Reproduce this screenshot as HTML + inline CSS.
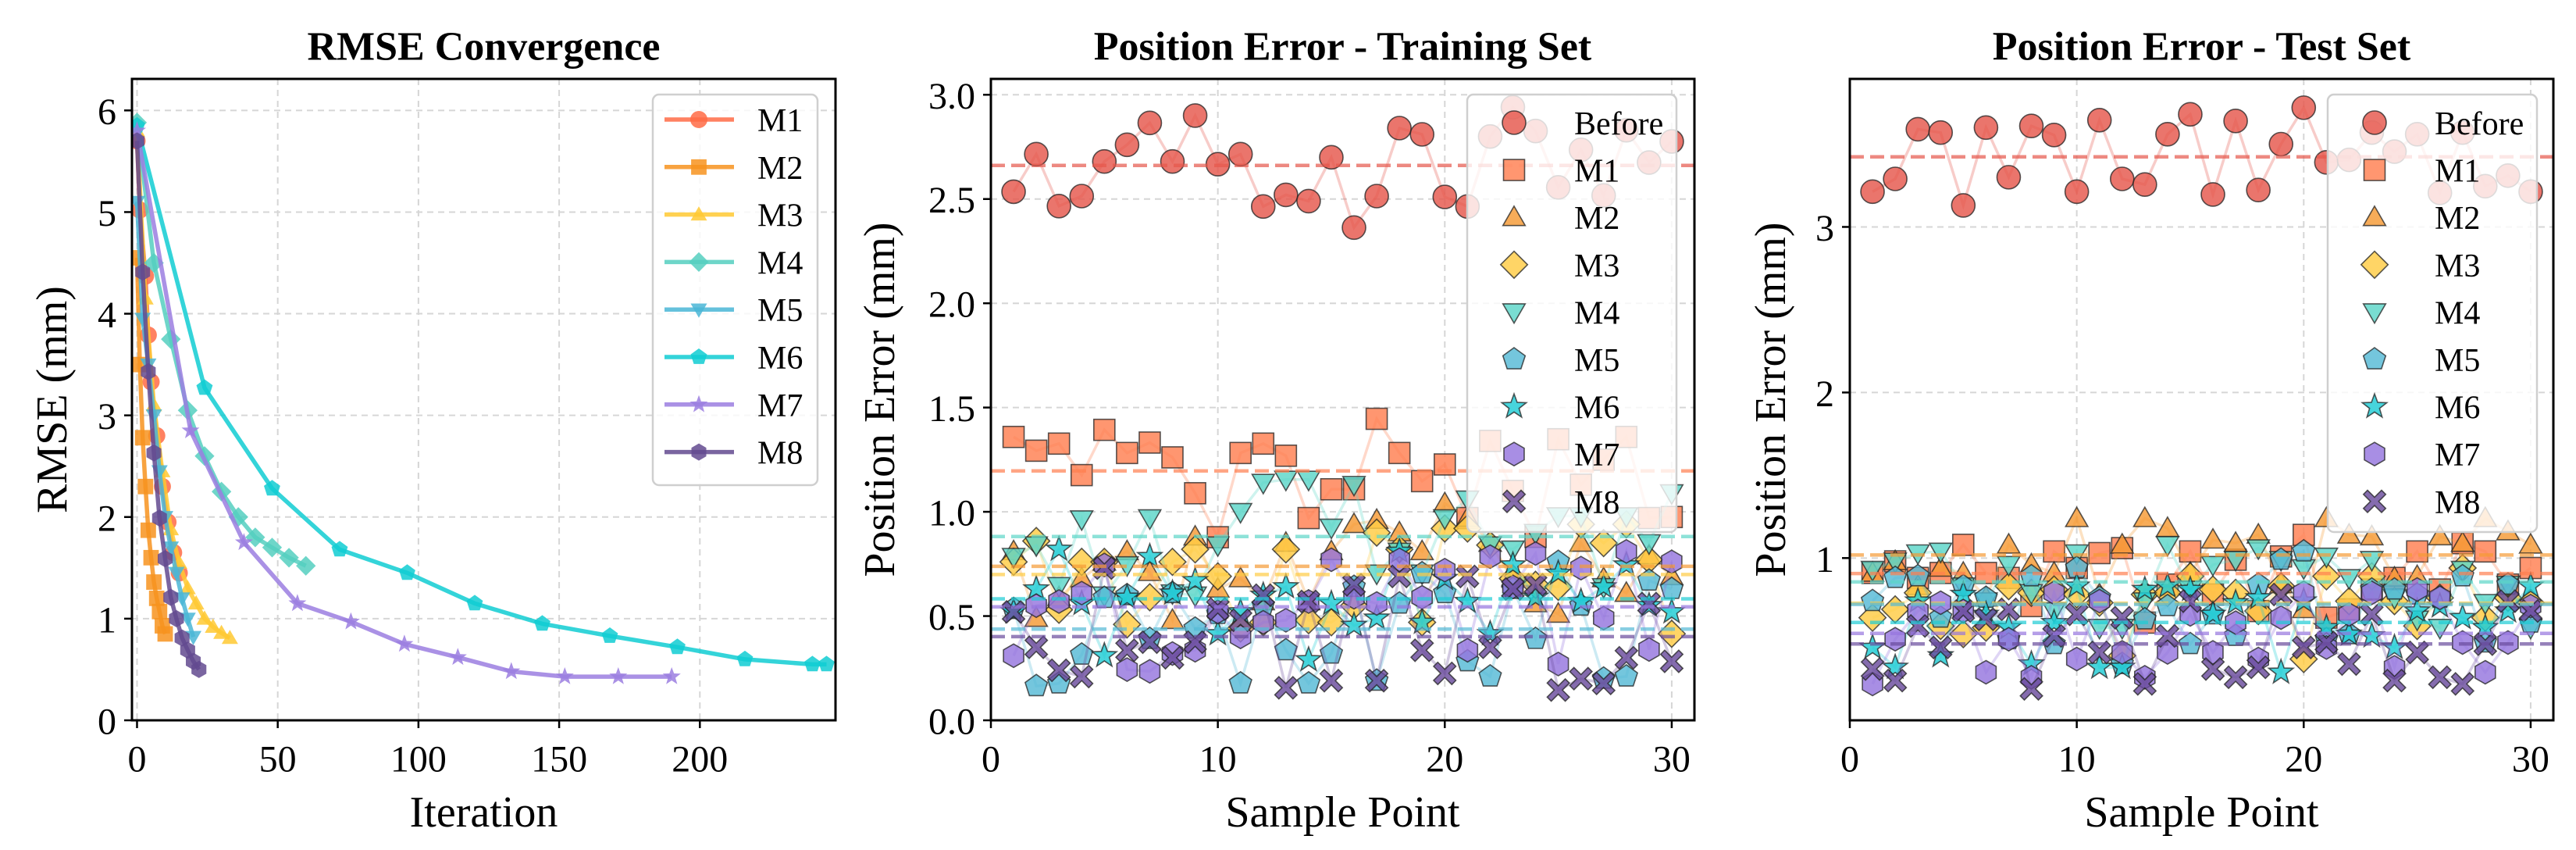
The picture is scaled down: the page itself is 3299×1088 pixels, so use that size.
<!DOCTYPE html>
<html><head><meta charset="utf-8"><style>
html,body{margin:0;padding:0;background:#fff;}
svg{display:block;font-family:"Liberation Serif","Times New Roman",serif;}
</style></head><body>
<svg id="fig" width="3299" height="1088" viewBox="0 0 3299 1088" xmlns="http://www.w3.org/2000/svg"></svg>
<script>
// ---------- Panel 1 data (RMSE convergence) ----------
const convNames = ['M1','M2','M3','M4','M5','M6','M7','M8'];
const convIterM1 = [0,1,3,4,5,7,9,11,13,15];
const convValM1  = [5.7,5.02,4.37,3.79,3.33,2.8,2.3,1.95,1.65,1.45];
const convIterM2 = [0,1,2,3,4,5,6,7,8,9,10];
const convValM2  = [4.55,3.5,2.78,2.3,1.87,1.6,1.36,1.2,1.07,0.93,0.85];
const convIterM3 = [0,3,6,9,12,15,18,21,24,27,30,33];
const convValM3  = [5.8,4.15,3.1,2.45,1.88,1.55,1.3,1.15,1.0,0.92,0.86,0.81];
const convIterM4 = [0,6,12,18,24,30,36,42,48,54,60];
const convValM4  = [5.88,4.5,3.75,3.05,2.6,2.25,2.0,1.8,1.7,1.6,1.52];
const convIterM5 = [0,2,4,6,8,10,12,14,16,18,20];
const convValM5  = [5.1,3.95,3.5,3.0,2.45,2.0,1.7,1.45,1.2,1.0,0.82];
const convIterM6 = [0,24,48,72,96,120,144,168,192,216,240,245];
const convValM6  = [5.85,3.27,2.28,1.68,1.45,1.15,0.95,0.83,0.72,0.6,0.55,0.55];
const convIterM7 = [0,19,38,57,76,95,114,133,152,171,190];
const convValM7  = [5.8,2.85,1.75,1.15,0.97,0.75,0.62,0.48,0.43,0.43,0.43];
const convIterM8 = [0,2,4,6,8,10,12,14,16,18,20,22];
const convValM8  = [5.7,4.41,3.43,2.63,1.99,1.59,1.21,1.0,0.81,0.69,0.58,0.5];
const convXTicks = [0,50,100,150,200];
const convYTicks = [0,1,2,3,4,5,6];

// ---------- Panel 2 data (training set) ----------
const sampleIdx = [1,2,3,4,5,6,7,8,9,10,11,12,13,14,15,16,17,18,19,20,21,22,23,24,25,26,27,28,29,30];
const seriesNames = ['Before','M1','M2','M3','M4','M5','M6','M7','M8'];
const trBefore = [2.535,2.715,2.466,2.514,2.68,2.76,2.865,2.68,2.90,2.667,2.715,2.464,2.52,2.49,2.70,2.363,2.514,2.84,2.81,2.51,2.464,2.80,2.94,2.826,2.556,2.736,2.517,2.83,2.675,2.776];
const trM1 = [1.359,1.293,1.327,1.176,1.393,1.282,1.332,1.261,1.089,0.878,1.282,1.327,1.269,0.97,1.108,1.108,1.446,1.282,1.147,1.227,0.97,1.34,1.1,0.88,1.348,1.13,1.25,1.359,0.97,0.975];
const trM2 = [0.81,0.49,0.59,0.68,0.76,0.81,0.71,0.48,0.88,0.63,0.68,0.57,0.85,0.57,0.81,0.94,0.96,0.90,0.81,1.04,0.97,0.85,0.68,0.56,0.51,0.85,0.68,0.61,0.79,0.69];
const trM3 = [0.76,0.86,0.53,0.76,0.76,0.46,0.59,0.76,0.82,0.69,0.44,0.47,0.82,0.48,0.47,0.55,0.90,0.82,0.47,0.92,0.92,0.84,0.68,0.65,0.64,0.94,0.85,0.94,0.77,0.415];
const trM4 = [0.785,0.84,0.645,0.965,0.60,0.745,0.97,0.61,0.60,0.84,1.0,1.14,1.155,1.155,0.925,1.13,0.705,0.81,0.705,0.97,1.06,0.84,0.82,0.90,0.98,0.98,0.64,0.98,0.85,1.09];
const trM5 = [0.534,0.164,0.177,0.315,0.587,0.6,0.39,0.61,0.44,0.51,0.177,0.55,0.336,0.177,0.32,0.64,0.19,0.56,0.705,0.61,0.283,0.21,0.63,0.39,0.76,0.55,0.20,0.21,0.67,0.63];
const trM6 = [0.52,0.63,0.82,0.56,0.31,0.59,0.785,0.61,0.67,0.415,0.52,0.60,0.64,0.29,0.56,0.455,0.49,0.81,0.47,0.68,0.57,0.415,0.745,0.59,0.705,0.57,0.64,0.745,0.55,0.52];
const trM7 = [0.31,0.55,0.57,0.61,0.745,0.243,0.235,0.32,0.336,0.52,0.40,0.47,0.48,0.57,0.77,0.59,0.56,0.77,0.59,0.72,0.336,0.785,0.64,0.80,0.27,0.73,0.49,0.81,0.34,0.76];
const trM8 = [0.52,0.35,0.24,0.21,0.73,0.336,0.375,0.30,0.375,0.534,0.48,0.60,0.156,0.57,0.19,0.65,0.19,0.69,0.336,0.225,0.69,0.35,0.63,0.65,0.145,0.20,0.177,0.30,0.56,0.283];
const trYTicks = [0.0,0.5,1.0,1.5,2.0,2.5,3.0];
const trYTickLabels = ['0.0','0.5','1.0','1.5','2.0','2.5','3.0'];

// ---------- Panel 3 data (test set) ----------
const teBefore = [3.213,3.29,3.59,3.57,3.13,3.60,3.30,3.61,3.555,3.213,3.645,3.29,3.256,3.56,3.68,3.196,3.64,3.223,3.50,3.72,3.39,3.405,3.57,3.455,3.56,3.206,3.57,3.246,3.31,3.213];
const teM1 = [0.91,0.98,0.88,0.91,1.08,0.91,0.88,0.71,1.04,0.94,1.03,1.06,0.61,0.84,1.04,0.78,0.99,0.68,1.01,1.14,0.64,0.69,0.81,0.88,1.04,0.81,1.09,1.04,0.84,0.94];
const teM2 = [0.91,0.98,0.83,0.94,0.91,0.76,1.08,0.96,0.91,1.24,0.78,1.08,1.24,1.18,0.91,1.11,1.09,1.14,0.84,0.69,1.24,1.14,1.13,0.88,0.89,1.13,1.09,1.24,1.16,1.08];
const teM3 = [0.64,0.69,0.79,0.59,0.54,0.58,0.83,0.79,0.81,0.78,0.73,0.41,0.78,0.79,0.89,0.81,0.79,0.68,0.83,0.39,0.89,0.74,0.89,0.74,0.59,0.76,0.94,0.64,0.76,0.73];
const teM4 = [0.93,0.98,1.03,1.04,0.83,0.74,0.96,0.79,0.68,1.03,0.58,0.58,0.74,1.08,0.81,0.96,0.99,1.06,0.99,0.94,1.01,0.88,0.99,0.76,0.63,0.58,0.93,0.73,0.84,0.58];
const teM5 = [0.74,0.88,0.89,0.64,0.83,0.76,0.51,0.89,0.48,0.94,0.76,0.36,0.63,0.71,0.48,0.66,0.53,0.84,0.99,1.04,0.51,0.54,0.81,0.81,0.78,0.76,0.89,0.49,0.84,0.61];
const teM6 = [0.46,0.34,0.74,0.41,0.78,0.66,0.58,0.36,0.61,0.83,0.34,0.34,0.81,0.83,0.81,0.66,0.73,0.76,0.31,0.74,0.58,0.54,0.53,0.46,0.68,0.71,0.64,0.58,0.68,0.83];
const teM7 = [0.24,0.51,0.68,0.73,0.68,0.31,0.51,0.28,0.79,0.39,0.74,0.43,0.28,0.43,0.66,0.43,0.61,0.39,0.64,0.79,0.46,0.66,0.79,0.34,0.81,0.76,0.49,0.31,0.49,0.71];
const teM8 = [0.33,0.26,0.59,0.46,0.68,0.63,0.69,0.21,0.53,0.66,0.43,0.64,0.24,0.53,0.74,0.33,0.28,0.34,0.78,0.46,0.49,0.36,0.66,0.26,0.43,0.28,0.24,0.48,0.74,0.68];
const teYTicks = [1,2,3];
const teYTickLabels = ['1','2','3'];
const sampleXTicks = [0,10,20,30];

// ---------- rendering ----------
const NS = 'http://www.w3.org/2000/svg';
const svg = document.getElementById('fig');
function mk(tag, attrs, parent){
  const e = document.createElementNS(NS, tag);
  for (const k in attrs) e.setAttribute(k, attrs[k]);
  (parent||svg).appendChild(e);
  return e;
}
const convColors = ['#FF6B45','#F7931E','#FFC933','#55CFC0','#4AB6D6','#10CCD2','#9B7EE0','#634A8F'];
const convShapes = ['circle','square','triup','diamond','tridown','pentagon','star','hexagon'];
const scatColors = ['#E5574C','#FF7F50','#F59A34','#FFCC44','#5CD6C8','#55B9D6','#1ECCD4','#9575DE','#6A4C9C'];
const scatShapes = ['circle','square','triup','diamond','tridown','pentagon','star','hexagon','xfill'];

function polyPts(cx,cy,r,n,rot){
  const p=[];for(let i=0;i<n;i++){const a=rot+i*2*Math.PI/n;p.push((cx+r*Math.cos(a)).toFixed(1)+','+(cy+r*Math.sin(a)).toFixed(1));}return p.join(' ');
}
function marker(g, shape, cx, cy, r, fill, stroke, sw, op){
  const base = {fill:fill, 'fill-opacity':op, stroke:stroke, 'stroke-width':sw, 'stroke-opacity':stroke==='none'?0:0.75};
  let e;
  if (shape==='circle') e=mk('circle',Object.assign({cx:cx,cy:cy,r:r},base),g);
  else if (shape==='square') e=mk('rect',Object.assign({x:cx-r*0.9,y:cy-r*0.9,width:r*1.8,height:r*1.8},base),g);
  else if (shape==='triup') e=mk('polygon',Object.assign({points:polyPts(cx,cy+r*0.15,r*1.1,3,-Math.PI/2)},base),g);
  else if (shape==='tridown') e=mk('polygon',Object.assign({points:polyPts(cx,cy-r*0.15,r*1.1,3,Math.PI/2)},base),g);
  else if (shape==='diamond') e=mk('polygon',Object.assign({points:polyPts(cx,cy,r*1.15,4,-Math.PI/2)},base),g);
  else if (shape==='pentagon') e=mk('polygon',Object.assign({points:polyPts(cx,cy,r,5,-Math.PI/2)},base),g);
  else if (shape==='hexagon') e=mk('polygon',Object.assign({points:polyPts(cx,cy,r,6,-Math.PI/2)},base),g);
  else if (shape==='star'){
    const p=[];for(let i=0;i<10;i++){const a=-Math.PI/2+i*Math.PI/5;const rr=i%2?r*0.45:r*1.1;p.push((cx+rr*Math.cos(a)).toFixed(1)+','+(cy+rr*Math.sin(a)).toFixed(1));}
    e=mk('polygon',Object.assign({points:p.join(' ')},base),g);
  } else {
    const a=r*0.95,b=r*0.35;
    const pts=[[-a,-a+b],[-a+b,-a],[0,-b],[a-b,-a],[a,-a+b],[b,0],[a,a-b],[a-b,a],[0,b],[-a+b,a],[-a,a-b],[-b,0]].map(q=>(cx+q[0]).toFixed(1)+','+(cy+q[1]).toFixed(1)).join(' ');
    e=mk('polygon',Object.assign({points:pts},base),g);
  }
  return e;
}

function axesFrame(ax){
  const g = mk('g',{});
  
  
  const cp = mk('clipPath',{id:ax.id+'-clip'},g);
  mk('rect',{x:ax.L,y:ax.T,width:ax.R-ax.L,height:ax.B-ax.T},cp);
  const grid = mk('g',{stroke:'#d6d6d6','stroke-width':2,'stroke-dasharray':'8,6'},g);
  
  
  ax.xticks.forEach(v=>{const x=ax.sx(v);mk('line',{x1:x,x2:x,y1:ax.T,y2:ax.B},grid);});
  ax.yticks.forEach(v=>{const y=ax.sy(v);mk('line',{x1:ax.L,x2:ax.R,y1:y,y2:y},grid);});
  return g;
}
function axesDecor(ax){
  const g = mk('g',{});
  mk('rect',{x:ax.L,y:ax.T,width:ax.R-ax.L,height:ax.B-ax.T,fill:'none',stroke:'#000','stroke-width':3},g);
  ax.xticks.forEach((v,i)=>{const x=ax.sx(v);
    mk('line',{x1:x,x2:x,y1:ax.B,y2:ax.B+10,stroke:'#000','stroke-width':2.5},g);
    const t=mk('text',{x:x,y:ax.B+50,'text-anchor':'middle','dominant-baseline':'central','font-size':48},g);
    t.textContent=ax.xlabels[i];
    
    
  });
  ax.yticks.forEach((v,i)=>{const y=ax.sy(v);
    mk('line',{x1:ax.L-10,x2:ax.L,y1:y,y2:y,stroke:'#000','stroke-width':2.5},g);
    const t=mk('text',{x:ax.L-20,y:y+2,'text-anchor':'end','dominant-baseline':'central','font-size':48},g);
    t.textContent=ax.ylabels[i];
    
    
  });
  const xl=mk('text',{x:(ax.L+ax.R)/2,y:1040,'text-anchor':'middle','dominant-baseline':'central','font-size':56},g);
  xl.textContent=ax.xtitle;
  
  
  const yl=mk('text',{x:ax.ylx,y:(ax.T+ax.B)/2,'text-anchor':'middle','dominant-baseline':'central','font-size':56,transform:'rotate(-90 '+ax.ylx+' '+((ax.T+ax.B)/2)+')'},g);
  yl.textContent=ax.ytitle;
  
  
  const tt=mk('text',{x:(ax.L+ax.R)/2,y:60,'text-anchor':'middle','dominant-baseline':'central','font-size':52,'font-weight':'bold'},g);
  tt.textContent=ax.title;
  
  
}

// ----- Panel 1 -----
(function(){
  const L=169,R=1070,T=101,B=922, x0=-1.8,x1=248.2, y0=0,y1=6.31;
  const ax={id:'p1',name:'rmse-convergence-panel',L,R,T,B,
    sx:v=>L+(v-x0)/(x1-x0)*(R-L), sy:v=>B-(v-y0)/(y1-y0)*(B-T),
    xticks:convXTicks, xlabels:convXTicks.map(String), yticks:convYTicks, ylabels:convYTicks.map(String),
    xtitle:'Iteration', ytitle:'RMSE (mm)', title:'RMSE Convergence', ylx:67};
  const g=axesFrame(ax);
  const plot=mk('g',{'clip-path':'url(#p1-clip)'},g);
  const iters=[convIterM1,convIterM2,convIterM3,convIterM4,convIterM5,convIterM6,convIterM7,convIterM8];
  const vals=[convValM1,convValM2,convValM3,convValM4,convValM5,convValM6,convValM7,convValM8];
  iters.forEach((it,k)=>{
    const sg=mk('g',{},plot);
    
    
    const pts=it.map((v,i)=>ax.sx(v).toFixed(1)+','+ax.sy(vals[k][i]).toFixed(1)).join(' ');
    mk('polyline',{points:pts,fill:'none',stroke:convColors[k],'stroke-width':5.5,'stroke-opacity':0.85,'stroke-linejoin':'round'},sg);
    it.forEach((v,i)=>{
      const m=marker(sg,convShapes[k],ax.sx(v),ax.sy(vals[k][i]),11,convColors[k],'none',0,0.85);
      
      
    });
  });
  axesDecor(ax);
  const lg=mk('g',{});
  
  
  mk('rect',{x:836,y:121,width:211,height:500,rx:8,fill:'#fff','fill-opacity':0.8,stroke:'#cfcfcf','stroke-width':2.5},lg);
  convNames.forEach((n,k)=>{
    const y=153+k*60.8;
    const eg=mk('g',{},lg);
    
    
    mk('line',{x1:851,x2:940,y1:y,y2:y,stroke:convColors[k],'stroke-width':5.5,'stroke-opacity':0.85},eg);
    marker(eg,convShapes[k],895,y,11,convColors[k],'none',0,0.85);
    const t=mk('text',{x:970,y:y+2,'dominant-baseline':'central','font-size':42},eg);
    t.textContent=n;
  });
})();

// ----- scatter panels -----
function scatterPanel(cfg){
  const L=cfg.L,R=cfg.L+901,T=101,B=922,x0=0,x1=31,y0=cfg.y0,y1=cfg.y1;
  const ax={id:cfg.id,name:cfg.name,L,R,T,B,
    sx:v=>L+(v-x0)/(x1-x0)*(R-L), sy:v=>B-(v-y0)/(y1-y0)*(B-T),
    xticks:sampleXTicks, xlabels:sampleXTicks.map(String), yticks:cfg.yticks, ylabels:cfg.ylabels,
    xtitle:'Sample Point', ytitle:'Position Error (mm)', title:cfg.title, ylx:cfg.ylx};
  const g=axesFrame(ax);
  const plot=mk('g',{'clip-path':'url(#'+cfg.id+'-clip)'},g);
  cfg.series.forEach((vals,k)=>{
    const sg=mk('g',{},plot);
    
    
    const pts=sampleIdx.map((s,i)=>ax.sx(s).toFixed(1)+','+ax.sy(vals[i]).toFixed(1)).join(' ');
    mk('polyline',{points:pts,fill:'none',stroke:scatColors[k],'stroke-width':3.5,'stroke-opacity':0.3},sg);
    sampleIdx.forEach((s,i)=>{
      const m=marker(sg,scatShapes[k],ax.sx(s),ax.sy(vals[i]),15,scatColors[k],'#222',1.6,0.82);
      
      
    });
  });
  cfg.series.forEach((vals,k)=>{
    const mean=vals.reduce((a,b)=>a+b,0)/vals.length;
    const y=ax.sy(mean);
    const ml=mk('line',{x1:L,x2:R,y1:y,y2:y,stroke:scatColors[k],'stroke-width':4.5,'stroke-opacity':0.7,'stroke-dasharray':'18,8'},plot);
    
    
  });
  const lg=mk('g',{});
  
  
  mk('rect',{x:cfg.legX,y:121,width:268,height:560,rx:8,fill:'#fff','fill-opacity':0.8,stroke:'#cfcfcf','stroke-width':2.5},lg);
  seriesNames.forEach((n,k)=>{
    const y=157+k*60.6;
    const eg=mk('g',{},lg);
    
    
    marker(eg,scatShapes[k],cfg.legX+60,y,15,scatColors[k],'#222',1.6,0.82);
    const t=mk('text',{x:cfg.legX+137,y:y+2,'dominant-baseline':'central','font-size':42},eg);
    t.textContent=n;
  });
  axesDecor(ax);
}
scatterPanel({id:'p2',name:'training-set-panel',L:1269,y0:0,y1:3.076,yticks:trYTicks,ylabels:trYTickLabels,
  title:'Position Error - Training Set',ylx:1127,legX:1879,
  series:[trBefore,trM1,trM2,trM3,trM4,trM5,trM6,trM7,trM8]});
scatterPanel({id:'p3',name:'test-set-panel',L:2369,y0:0.02,y1:3.894,yticks:teYTicks,ylabels:teYTickLabels,
  title:'Position Error - Test Set',ylx:2268,legX:2981,
  series:[teBefore,teM1,teM2,teM3,teM4,teM5,teM6,teM7,teM8]});
</script>
</body></html>
